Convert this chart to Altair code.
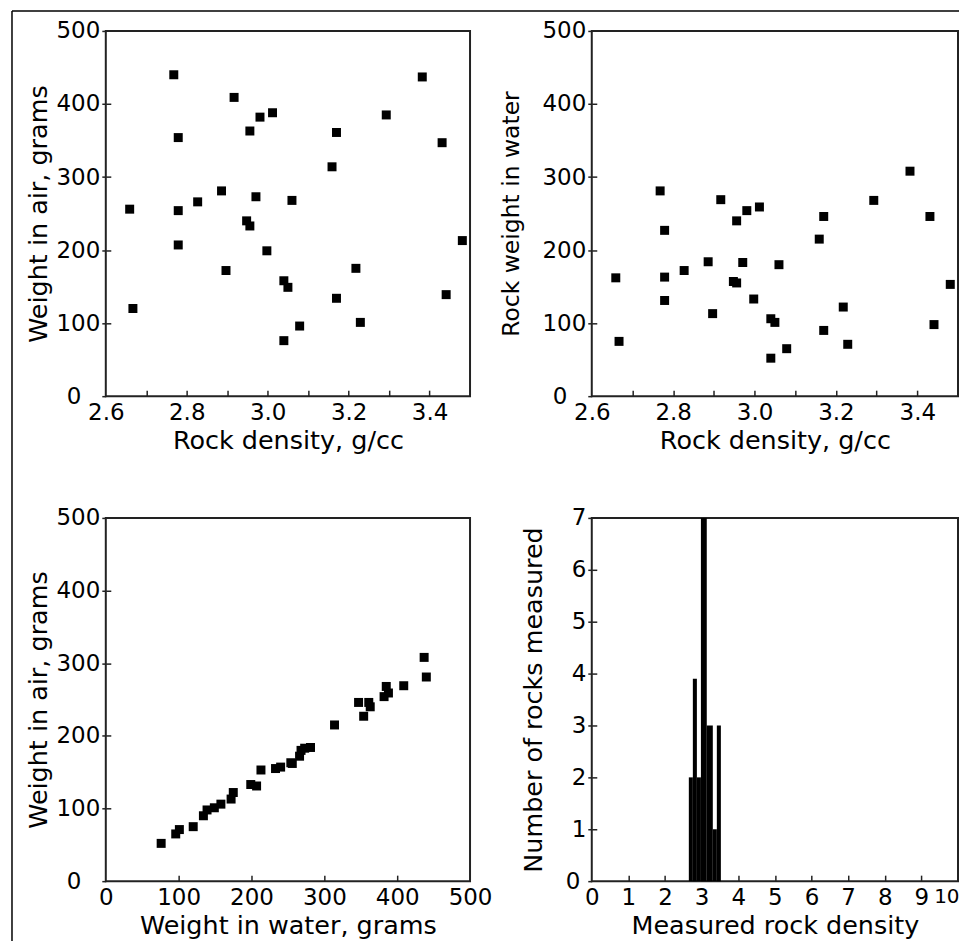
import altair as alt
import pandas as pd

# ---- data ----
density = [2.659, 2.667, 2.768, 2.779, 2.779, 2.779, 2.827, 2.886, 2.897, 2.917,
           2.948, 2.956, 2.956, 2.971, 2.981, 2.998, 3.012, 3.040, 3.050, 3.040,
           3.060, 3.079, 3.159, 3.170, 3.170, 3.218, 3.229, 3.293, 3.382, 3.431,
           3.441, 3.481]
air = [256, 120, 440, 354, 254, 207, 266, 281, 172, 409,
       240, 233, 363, 273, 382, 199, 388, 158, 149, 76,
       268, 96, 314, 361, 134, 175, 101, 385, 437, 347,
       139, 213]
water = [162, 75, 281, 227, 163, 131, 172, 184, 113, 269,
         157, 155, 240, 183, 254, 133, 259, 106, 101, 52,
         180, 65, 215, 246, 90, 122, 71, 268, 308, 246,
         98, 153]

hist_lo = [2.65, 2.76, 2.87, 2.98, 3.14, 3.305, 3.415]
hist_hi = [2.76, 2.87, 2.98, 3.14, 3.305, 3.415, 3.525]
hist_n = [2, 3.9, 2, 7, 3, 1, 3]

dens_labels = [2.6, 2.8, 3.0, 3.2, 3.4]
dens_minor = [2.7, 2.8, 2.9, 3.0, 3.1, 3.2, 3.3, 3.4]
wt_labels = [0, 100, 200, 300, 400, 500]
wt_minor = [100, 200, 300, 400]
hx_labels = [0, 1, 2, 3, 4, 5, 6, 7, 8, 9, 10]
hx_minor = [1, 2, 3, 4, 5, 6, 7, 8, 9]
hy_labels = [0, 1, 2, 3, 4, 5, 6, 7]
hy_minor = [1, 2, 3, 4, 5, 6]

df = pd.DataFrame({"density": density, "air": air, "water": water})
hdf = pd.DataFrame({"lo": hist_lo, "hi": hist_hi, "n": hist_n})
one = pd.DataFrame({"k": [0]})

FONT = "DejaVu Sans"
LBL = 23
TTL = 25.5

FIRST_X = "datum.value == 2.6 ? '2.6\u00a0' : datum.label"


def cond(test, yes, no):
    return {"condition": {"test": test, "value": yes}, "value": no}


def x_axis(title, values, fmt=None, expr=None, tp=4, align=None, loff=None,
           lsize=LBL):
    kw = dict(orient="bottom", title=title, values=values, ticks=False,
              labelPadding=5, titlePadding=tp, domain=False, grid=False,
              labelFlush=False, labelOverlap=False,
              labelFont=FONT, labelFontSize=lsize, labelColor="black",
              titleFont=FONT, titleFontSize=TTL, titleFontWeight="normal",
              titleColor="black")
    if fmt:
        kw["format"] = fmt
    if expr:
        kw["labelExpr"] = expr
    if align:
        kw["labelAlign"] = align
    if loff:
        kw["labelOffset"] = loff
    return alt.Axis(**kw)


def y_axis(title, values, tp=5, zero_pad=21, tsize=TTL):
    kw = dict(orient="left", title=title, values=values, tickSize=4,
              tickColor="#222", tickWidth=1.5,
              labelPadding=cond("datum.value == 0", zero_pad, 2),
              titlePadding=tp, domain=False, grid=False,
              labelOverlap=False, labelFont=FONT, labelFontSize=LBL,
              labelColor="black", titleFont=FONT, titleFontSize=tsize,
              titleFontWeight="normal", titleColor="black")
    return alt.Axis(**kw)


def inner_x(values, H):
    return alt.Axis(orient="top", offset=-H, labels=False, domain=False,
                    grid=False, tickSize=6, tickColor="#222", tickWidth=1.5,
                    values=values, title="")


def inner_y(values, W):
    return alt.Axis(orient="right", offset=-W, labels=False, domain=False,
                    grid=False, tickSize=5, tickColor="#222", tickWidth=1.5,
                    values=values, title="")


def panel(base, mark, xf, yf, xdom, ydom, W, H, xax, yax, xin, yin, extra=None,
          x2f=None):
    xs = alt.Scale(domain=xdom, nice=False, zero=False)
    ys = alt.Scale(domain=ydom, nice=False, zero=False)
    enc = dict(x=alt.X(xf, type="quantitative", scale=xs, axis=xax),
               y=alt.Y(yf, type="quantitative", scale=ys, axis=yax))
    if x2f:
        enc["x2"] = alt.X2(x2f)
        enc["y2"] = alt.datum(0)
    main = mark.encode(**enc)
    ticks = base.mark_point(opacity=0).encode(
        x=alt.X(xf, type="quantitative", scale=xs, axis=inner_x(xin, H)),
        y=alt.Y(yf, type="quantitative", scale=ys, axis=inner_y(yin, W)),
    )
    layers = [main, ticks] + (extra or [])
    return alt.layer(*layers).resolve_axis(x="independent", y="independent").properties(
        width=W, height=H)


sq = dict(shape="square", size=81, color="black", filled=True, opacity=1)

frame_top = alt.Chart(one).mark_rule(color="black", strokeWidth=1.5).encode(
    x=alt.value(-94), x2=alt.value(855), y=alt.value(-20))
frame_left = alt.Chart(one).mark_rule(color="black", strokeWidth=1.5).encode(
    x=alt.value(-94), y=alt.value(-20), y2=alt.value(912))

b = alt.Chart(df)
p1 = panel(b, b.mark_point(**sq), "density", "air", [2.6, 3.5], [0, 500], 365, 366,
           x_axis("Rock density, g/cc", dens_labels, ".1f", FIRST_X),
           y_axis("Weight in air, grams", wt_labels, 5),
           dens_minor, wt_minor, extra=[frame_top, frame_left])
p2 = panel(b, b.mark_point(**sq), "density", "water", [2.6, 3.5], [0, 500], 367, 366,
           x_axis("Rock density, g/cc", dens_labels, ".1f", FIRST_X),
           y_axis("Rock weight in water", wt_labels, 19, 21, 23.5),
           dens_minor, wt_minor)
p3 = panel(b, b.mark_point(**sq), "air", "water", [0, 500], [0, 500], 365, 364,
           x_axis("Weight in water, grams", wt_labels),
           y_axis("Weight in air, grams", wt_labels, 5),
           wt_minor, wt_minor)
hb = alt.Chart(hdf)
p4 = panel(hb, hb.mark_rect(color="black"), "lo", "n", [0, 10], [0, 7], 367, 364,
           x_axis("Measured rock density", hx_labels,
                  align=cond("datum.value == 10", "right", "center"),
                  loff=cond("datum.value == 10", 1, 0),
                  lsize=cond("datum.value == 10", 20, LBL)),
           y_axis("Number of rocks measured", hy_labels, 19, 8),
           hx_minor, hy_minor, x2f="hi")

chart = alt.concat(p1, p2, p3, p4, columns=2, spacing=122, bounds="flush").properties(
    padding={"left": 2, "top": 0, "right": 0, "bottom": 0},
    background="white",
).configure_view(stroke="#222", strokeWidth=2)

chart.save("out.html", embed_options={"renderer": "svg", "actions": False})
